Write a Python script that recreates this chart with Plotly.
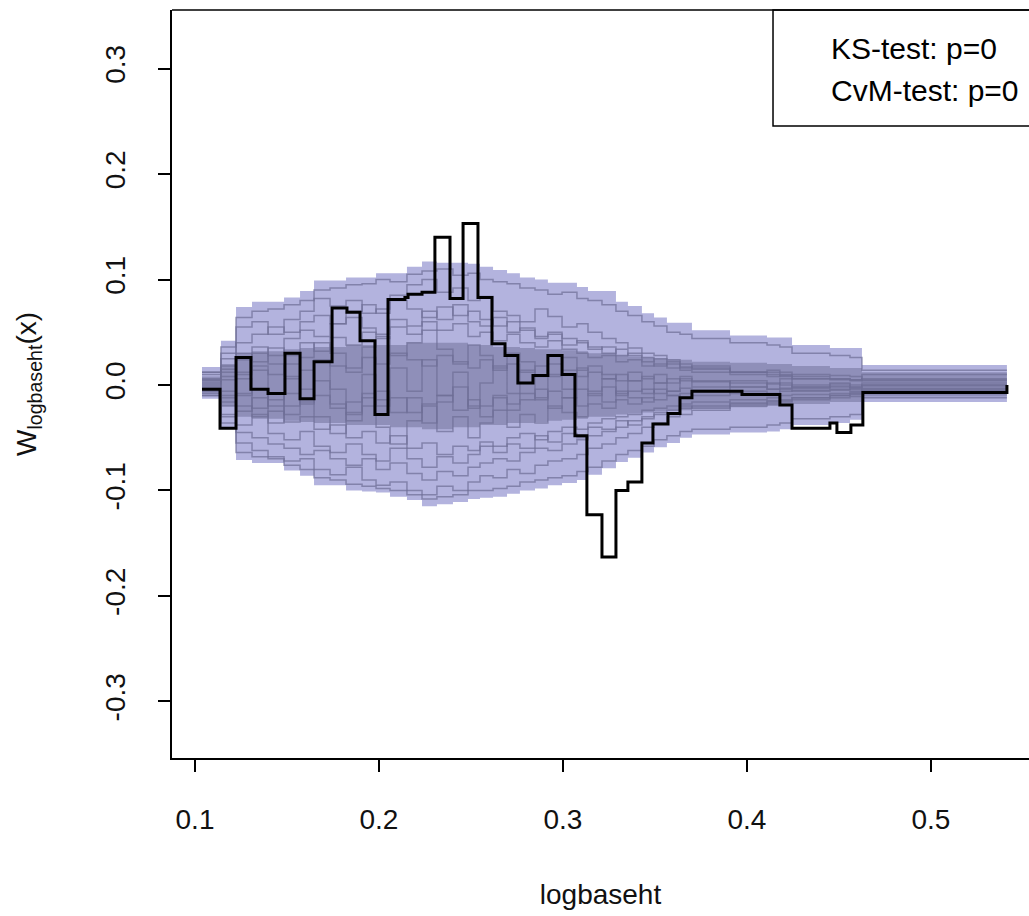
import plotly.graph_objects as go

# ---- observed cumulative residual process (step function) ----
obs_x = [0.1038, 0.1136, 0.1223, 0.1304, 0.1397, 0.1489, 0.1571, 0.1647, 0.1745, 0.1826,
         0.1897, 0.1978, 0.2049, 0.2141, 0.2158, 0.2234, 0.2304, 0.2386, 0.2457, 0.2538,
         0.2614, 0.2685, 0.2755, 0.2837, 0.2918, 0.2995, 0.3065, 0.3130, 0.3212, 0.3288,
         0.3353, 0.3429, 0.3489, 0.3571, 0.3636, 0.3701, 0.3973, 0.4179, 0.4245, 0.4451,
         0.4489, 0.4565, 0.4630, 0.5413]
obs_y = [-0.004, -0.041, 0.026, -0.004, -0.008, 0.030, -0.013, 0.022, 0.073, 0.069,
         0.042, -0.028, 0.081, 0.083, 0.086, 0.088, 0.140, 0.082, 0.153, 0.083,
         0.039, 0.028, 0.002, 0.009, 0.028, 0.010, -0.048, -0.123, -0.163, -0.100,
         -0.092, -0.055, -0.037, -0.027, -0.012, -0.006, -0.009, -0.019, -0.041, -0.036,
         -0.045, -0.038, -0.007, 0.000]

# ---- simulation grid and envelope (values in thousandths) ----
sim_x = [0.1038, 0.1141, 0.1223, 0.1310, 0.1397, 0.1484, 0.1571, 0.1647, 0.1734, 0.1821,
         0.1908, 0.1984, 0.2060, 0.2152, 0.2234, 0.2315, 0.2402, 0.2484, 0.2549, 0.2620,
         0.2696, 0.2766, 0.2848, 0.2918, 0.2995, 0.3076, 0.3136, 0.3212, 0.3288, 0.3353,
         0.3429, 0.3495, 0.3565, 0.3636, 0.3701, 0.3908, 0.4109, 0.4179, 0.4245, 0.4451,
         0.4560, 0.4625, 0.5413]
env_upper = [17, 42, 74, 79, 79, 83, 89, 99, 99, 102, 102, 106, 106, 112, 117, 116, 116, 115, 112, 109,
             106, 102, 100, 97, 97, 93, 89, 89, 79, 75, 68, 64, 59, 59, 52, 47, 45, 45, 38, 35,
             35, 19]
env_lower = [-13, -41, -71, -74, -74, -81, -86, -95, -95, -100, -101, -102, -106, -109, -115, -113,
             -111, -108, -107, -106, -103, -100, -98, -95, -93, -90, -85, -79, -73, -69, -64, -59,
             -55, -50, -47, -45, -44, -42, -38, -36, -33, -16]
core_upper = [8, 20, 30, 32, 32, 34, 35, 36, 36, 38, 38, 38, 38, 40, 40, 40, 40, 38, 38, 36,
              36, 35, 34, 34, 33, 32, 30, 30, 28, 27, 26, 25, 24, 24, 22, 21, 20, 20, 18, 16,
              16, 12]
core_lower = [-8, -20, -30, -32, -32, -34, -35, -36, -36, -38, -38, -38, -40, -40, -42, -42,
              -40, -40, -38, -38, -36, -36, -35, -34, -33, -32, -30, -30, -28, -27, -26, -25,
              -24, -24, -22, -21, -20, -20, -18, -16, -16, -11]

# ---- a selection of simulated paths (thousandths) ----
sim_paths = [
    [10, 30, 55, 60, 48, 62, 70, 82, 75, 80, 68, 72, 85, 95, 100, 88, 92, 80, 84, 70, 66, 60, 72, 65, 55, 58, 50, 44, 40, 35, 30, 28, 24, 20, 16, 12, 12, 10, 8, 6, 5, 10],
    [-8, -30, -55, -62, -68, -72, -70, -80, -85, -78, -90, -95, -92, -100, -104, -96, -100, -92, -86, -88, -80, -84, -76, -72, -70, -66, -60, -56, -50, -46, -40, -36, -30, -28, -24, -20, -18, -16, -12, -10, -8, -6],
    [5, 15, 30, 22, 35, 28, 40, 32, 45, 38, 50, 44, 55, 48, 60, 52, 58, 46, 50, 42, 48, 40, 36, 42, 34, 30, 26, 28, 22, 24, 18, 20, 16, 14, 12, 10, 8, 9, 6, 6, 5, 4],
    [-4, -12, -20, -30, -25, -35, -30, -42, -38, -50, -44, -55, -48, -60, -55, -66, -58, -62, -54, -58, -50, -46, -52, -44, -40, -42, -36, -32, -30, -28, -24, -22, -20, -18, -16, -14, -12, -10, -9, -8, -7, -5],
    [2, 8, 12, 18, 10, 20, 14, 24, 18, 16, 26, 20, 30, 24, 18, 28, 22, 16, 24, 14, 20, 12, 18, 10, 14, 8, 12, 6, 10, 4, 8, 2, 6, 4, 3, 2, 1, 2, 0, 1, 0, 0],
    [-2, -6, -10, -4, -14, -8, -18, -10, -22, -16, -8, -20, -12, -26, -18, -10, -24, -14, -20, -12, -18, -8, -14, -6, -12, -4, -10, -2, -8, -6, -4, -8, -6, -3, -5, -2, -4, -3, -2, -1, -2, -1],
    [12, 25, 40, 48, 55, 50, 60, 66, 58, 70, 76, 68, 80, 72, 64, 74, 66, 70, 62, 56, 60, 52, 46, 50, 44, 40, 36, 30, 34, 28, 22, 25, 20, 17, 15, 12, 10, 8, 6, 5, 4, 6],
    [-10, -28, -45, -50, -56, -60, -66, -62, -70, -76, -70, -80, -74, -84, -90, -82, -86, -78, -74, -70, -72, -64, -60, -62, -56, -52, -48, -44, -40, -34, -30, -28, -24, -22, -20, -17, -15, -14, -12, -10, -9, -8],
    [6, -10, 10, 30, 20, 8, 26, 40, 30, 12, 36, 46, 28, 40, 52, 34, 20, 38, 28, 16, 30, 22, 8, 20, 26, 14, 18, 10, 4, 12, 6, 10, 2, 6, 4, -2, 2, 0, -3, -2, -4, 2],
    [-6, 5, -25, -12, -36, -20, -4, -30, -46, -26, -12, -40, -56, -34, -20, -44, -30, -50, -36, -24, -40, -28, -36, -20, -26, -30, -18, -22, -14, -18, -12, -14, -10, -8, -10, -6, -8, -6, -5, -4, -3, -3],
    [12, 36, 64, 70, 72, 76, 80, 90, 92, 95, 96, 100, 98, 105, 108, 110, 104, 106, 100, 98, 96, 92, 90, 86, 88, 82, 80, 76, 70, 66, 60, 56, 50, 48, 44, 40, 38, 36, 30, 28, 26, 14],
    [-10, -36, -64, -68, -70, -76, -80, -88, -90, -94, -96, -98, -100, -104, -108, -106, -104, -100, -100, -98, -96, -92, -90, -88, -86, -82, -78, -72, -66, -62, -58, -52, -48, -44, -42, -40, -38, -36, -32, -30, -28, -12],
    [0, 18, -8, 14, -20, 6, -16, 22, -4, -28, 10, -14, 16, -6, 24, -10, 12, -22, 2, 18, -8, 14, -12, 8, -4, 16, -6, 6, -10, 4, -8, 2, -6, 8, -2, 4, -4, 6, -2, 2, -2, 0],
    [-3, -16, 6, -22, -8, -28, -14, 4, -18, -34, -20, -6, -26, -12, -36, -16, -2, -20, -30, -10, -24, -14, -4, -22, -12, -20, -8, -16, -6, -12, -16, -4, -10, -12, -6, -8, -10, -4, -6, -5, -6, -4],
    [4, 12, 24, 36, 28, 44, 52, 46, 58, 64, 54, 48, 62, 56, 70, 62, 76, 60, 56, 64, 50, 54, 44, 48, 38, 42, 34, 36, 28, 30, 26, 18, 22, 16, 18, 12, 14, 12, 10, 9, 8, 5],
    [-5, -20, -38, -28, -46, -52, -44, -58, -64, -56, -66, -72, -60, -70, -78, -68, -74, -66, -58, -64, -56, -60, -48, -54, -46, -50, -40, -42, -34, -38, -32, -26, -28, -20, -22, -18, -16, -15, -14, -12, -11, -6],
]

x_ticks = [0.1, 0.2, 0.3, 0.4, 0.5]
y_ticks = [-0.3, -0.2, -0.1, 0.0, 0.1, 0.2, 0.3]
legend_lines = ["KS-test: p=0", "CvM-test: p=0"]


def closed(vals):
    # thousandths -> units, repeating the last level up to the end of the grid
    v = [t / 1000 for t in vals]
    return v + [v[-1]]


fig = go.Figure()

# envelope band
fig.add_trace(go.Scatter(x=sim_x, y=closed(env_upper), mode="lines", line=dict(width=0, shape="hv"),
                         hoverinfo="skip", showlegend=False))
fig.add_trace(go.Scatter(x=sim_x, y=closed(env_lower), mode="lines", line=dict(width=0, shape="hv"),
                         fill="tonexty", fillcolor="#b3b3de", hoverinfo="skip", showlegend=False))
# dense central region where most paths overlap
fig.add_trace(go.Scatter(x=sim_x, y=closed(core_upper), mode="lines", line=dict(width=0, shape="hv"),
                         hoverinfo="skip", showlegend=False))
fig.add_trace(go.Scatter(x=sim_x, y=closed(core_lower), mode="lines", line=dict(width=0, shape="hv"),
                         fill="tonexty", fillcolor="rgba(70,70,110,0.33)", hoverinfo="skip", showlegend=False))

# simulated paths
for p in sim_paths:
    fig.add_trace(go.Scatter(x=sim_x, y=closed(p), mode="lines",
                             line=dict(color="rgba(110,110,150,0.7)", width=1.5, shape="hv"),
                             hoverinfo="skip", showlegend=False))

# observed path
fig.add_trace(go.Scatter(x=obs_x, y=obs_y, mode="lines",
                         line=dict(color="black", width=3, shape="hv"), showlegend=False))

# test-statistic box
fig.add_shape(type="rect", xref="paper", yref="paper", x0=0.7013, x1=1.05, y0=0.845, y1=1.0,
              line=dict(color="black", width=1.5), fillcolor="white", layer="above")
for line_text, ypos in zip(legend_lines, [0.949, 0.893]):
    fig.add_annotation(xref="paper", yref="paper", x=0.7665, y=ypos, xanchor="left", yanchor="middle",
                       text=line_text, showarrow=False, align="left",
                       font=dict(family="Liberation Sans, Arial, sans-serif", size=30, color="black"))

# frame top edge
fig.add_shape(type="line", xref="paper", yref="paper", x0=0, x1=1.0, y0=1, y1=1,
              line=dict(color="black", width=1.5))

font = dict(family="Liberation Sans, Arial, sans-serif", size=28, color="#111111")

fig.update_layout(
    width=1029, height=916,
    margin=dict(l=172, r=0, t=10, b=158),
    paper_bgcolor="white", plot_bgcolor="white",
    font=font,
    xaxis=dict(range=[0.0875, 0.5533], tickvals=x_ticks, ticktext=[f"{v:.1f}" for v in x_ticks],
               showgrid=False, zeroline=False, showline=True, linecolor="black", linewidth=1.5,
               ticks="outside", ticklen=12, tickwidth=1.5, tickcolor="black",
               ticklabelstandoff=24,
               title=dict(text="logbaseht", standoff=50, font=font)),
    yaxis=dict(range=[-0.3536, 0.3555], tickvals=y_ticks, ticktext=[f"{v:.1f}" for v in y_ticks],
               tickangle=-90,
               showgrid=False, zeroline=False, showline=True, linecolor="black", linewidth=1.5,
               ticks="outside", ticklen=12, tickwidth=1.5, tickcolor="black",
               ticklabelstandoff=22,
               title=dict(text="W<sub>logbaseht</sub>(x)", standoff=55, font=font)),
)

fig.write_html("out.html")
